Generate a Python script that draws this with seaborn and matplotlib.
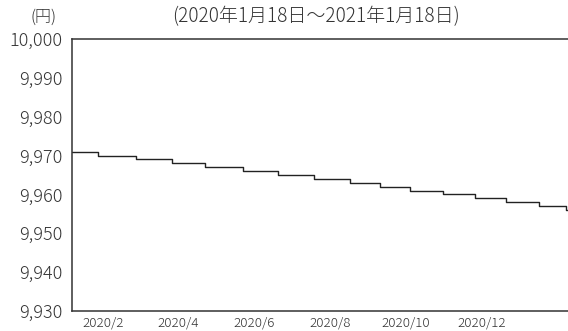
import matplotlib
matplotlib.use("Agg")
import matplotlib.pyplot as plt
import matplotlib.ticker as mticker
import seaborn as sns
import pandas as pd

# ---- data ----
step_dates = ["2020-01-07", "2020-01-28", "2020-02-27", "2020-03-27", "2020-04-23",
              "2020-05-23", "2020-06-20", "2020-07-19", "2020-08-17", "2020-09-10",
              "2020-10-04", "2020-10-31", "2020-11-25", "2020-12-20", "2021-01-16",
              "2021-02-06", "2021-02-08"]
nav_values = [9971, 9970, 9969, 9968, 9967, 9966, 9965, 9964, 9963, 9962,
              9961, 9960, 9959, 9958, 9957, 9956, 9956]
y_ticks = [9930, 9940, 9950, 9960, 9970, 9980, 9990, 10000]
x_tick_dates = ["2020-02-01", "2020-04-01", "2020-06-01", "2020-08-01",
                "2020-10-01", "2020-12-01"]
x_tick_labels = ["2020/2", "2020/4", "2020/6", "2020/8", "2020/10", "2020/12"]
unit_label = "(円)"
subtitle = "(2020年1月18日～2021年1月18日)"

df = pd.DataFrame({"date": pd.to_datetime(step_dates), "nav": nav_values})

sns.set_style("white")
plt.rcParams["font.family"] = ["Noto Sans CJK JP", "DejaVu Sans"]

fig = plt.figure(figsize=(5.68, 3.31), dpi=100)
ax = fig.add_axes([72 / 568, 1 - 311 / 331, 1 - 72 / 568, (311 - 39) / 331])

sns.lineplot(data=df, x="date", y="nav", ax=ax, color="#222222", linewidth=1.0,
             drawstyle="steps-post")

ax.set_ylim(9930, 10000)
ax.set_xlim(pd.Timestamp("2020-01-07"), pd.Timestamp("2021-02-08"))
ax.set_yticks(y_ticks)
ax.yaxis.set_major_formatter(mticker.FuncFormatter(lambda v, p: f"{int(v):,}"))
ax.set_xticks(pd.to_datetime(x_tick_dates))
ax.set_xticklabels(x_tick_labels)
ax.set_xlabel("")
ax.set_ylabel("")

ax.tick_params(axis="y", direction="in", length=3.6, width=0.8, colors="#444444",
               labelsize=13, labelcolor="#333333", pad=7)
ax.tick_params(axis="x", direction="in", length=5, width=0.8, colors="#444444",
               labelsize=9.6, labelcolor="#333333", pad=4)
for lab in ax.get_yticklabels() + ax.get_xticklabels():
    lab.set_fontweight("light")

for s in ["left", "bottom", "top"]:
    ax.spines[s].set_color("#333333")
    ax.spines[s].set_linewidth(1.1)
ax.spines["right"].set_visible(False)

fig.text(44 / 568, 1 - 17 / 331, unit_label, ha="center", va="center",
         fontsize=11.5, color="#333333", fontweight="light")
fig.text(316 / 568, 1 - 17 / 331, subtitle, ha="center", va="center",
         fontsize=13.7, color="#333333", fontweight="light")

fig.savefig("out.png", dpi=100)
